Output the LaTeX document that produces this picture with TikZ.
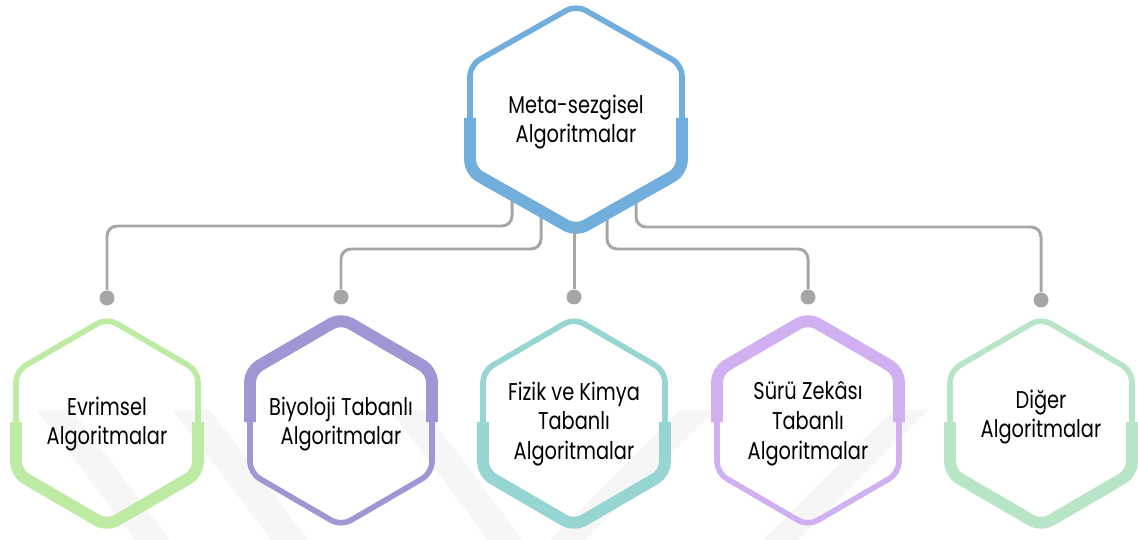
\documentclass[tikz,border=0pt]{standalone}
\usepackage{fontspec}
\setmainfont{Poppins}[FakeStretch=0.8]
\usetikzlibrary{positioning}
\definecolor{hexblue}{HTML}{72AEDB}
\definecolor{hexgreen}{HTML}{BDEBA3}
\definecolor{hexpurple}{HTML}{9E97D4}
\definecolor{hexteal}{HTML}{97D5D2}
\definecolor{hexlilac}{HTML}{D0B0F0}
\definecolor{hexmint}{HTML}{B8E5C6}
\definecolor{linegray}{HTML}{A6A6A6}

\begin{document}
\begin{tikzpicture}[x=0.02cm,y=-0.02cm,
    hextext/.style={align=center,inner sep=0pt,font=\fontsize{13.8}{17}\selectfont},
    hexthin/.style={line width=3.2pt,rounded corners=0.22cm},
    hexthick/.style={line width=6.8pt,rounded corners=0.22cm},
    conn/.style={draw=linegray,line width=1.7pt,rounded corners=0.2cm},
    dot/.style={circle,fill=linegray,minimum size=0.3cm,inner sep=0pt}]
    \useasboundingbox (0,0) rectangle (1138,540);

    % faint watermark
    \fill[gray!7] (37,410) -- (72,410) -- (170,540) -- (135,540) -- cycle;
    \fill[gray!7] (173,410) -- (210,410) -- (308,540) -- (271,540) -- cycle;
    \fill[gray!7] (390,410) -- (425,410) -- (523,540) -- (488,540) -- cycle;
    \fill[gray!7] (680,410) -- (715,410) -- (585,540) -- (550,540) -- cycle;
    \fill[gray!7] (893,410) -- (928,410) -- (798,540) -- (763,540) -- cycle;

    \node[hextext] (meta) at (576,122) {Meta-sezgisel\\Algoritmalar};
    \node[hextext] (evrimsel) at (107,424) {Evrimsel\\Algoritmalar};
    \node[hextext] (biyoloji) at (341,424) {Biyoloji Tabanlı\\Algoritmalar};
    \node[hextext] (fizik) at (574,424) {Fizik ve Kimya\\Tabanlı\\Algoritmalar};
    \node[hextext] (suru) at (808,424) {Sürü Zekâsı\\Tabanlı\\Algoritmalar};
    \node[hextext] (diger) at (1041,417) {Diğer\\Algoritmalar};

    \node[dot] (devrimsel) at (107,298) {};
    \node[dot] (dbiyoloji) at (341,297) {};
    \node[dot] (dfizik) at (574,297) {};
    \node[dot] (dsuru) at (808,297) {};
    \node[dot] (ddiger) at (1041,300) {};

    \draw[conn] (meta.center) ++(-64,75) -- ++(0,29) -| (devrimsel);
    \draw[conn] (meta.center) ++(-35,90) -- ++(0,37) -| (dbiyoloji);
    \draw[conn] (meta.center) ++(-2,110) -- (dfizik);
    \draw[conn] (meta.center) ++(31,92) -- ++(0,35) -| (dsuru);
    \draw[conn] (meta.center) ++(60,75) -- ++(0,30) -| (ddiger);

    \draw[hexthin,draw=hexblue] (470,118) -- (470,65) -- (576,5) -- (682,65) -- (682,171) -- (576,231) -- (470,171) -- cycle;
    \draw[hexthick,draw=hexblue] (470,118) -- (470,171) -- (576,231) -- (682,171) -- (682,118);

    \draw[hexthin,draw=hexgreen] (16,422) -- (16,371) -- (107,318) -- (198,371) -- (198,473) -- (107,526) -- (16,473) -- cycle;
    \draw[hexthick,draw=hexgreen] (16,422) -- (16,473) -- (107,526) -- (198,473) -- (198,422);

    \draw[hexthin,draw=hexpurple] (250,422) -- (250,371) -- (341,318) -- (432,371) -- (432,473) -- (341,526) -- (250,473) -- cycle;
    \draw[hexthick,draw=hexpurple] (250,422) -- (250,371) -- (341,318) -- (432,371) -- (432,422);

    \draw[hexthin,draw=hexteal] (483,422) -- (483,371) -- (574,318) -- (665,371) -- (665,473) -- (574,526) -- (483,473) -- cycle;
    \draw[hexthick,draw=hexteal] (483,422) -- (483,473) -- (574,526) -- (665,473) -- (665,422);

    \draw[hexthin,draw=hexlilac] (717,422) -- (717,371) -- (808,318) -- (899,371) -- (899,473) -- (808,526) -- (717,473) -- cycle;
    \draw[hexthick,draw=hexlilac] (717,422) -- (717,371) -- (808,318) -- (899,371) -- (899,422);

    \draw[hexthin,draw=hexmint] (950,422) -- (950,371) -- (1041,318) -- (1132,371) -- (1132,473) -- (1041,526) -- (950,473) -- cycle;
    \draw[hexthick,draw=hexmint] (950,422) -- (950,473) -- (1041,526) -- (1132,473) -- (1132,422);
  \end{tikzpicture}
\end{document}
